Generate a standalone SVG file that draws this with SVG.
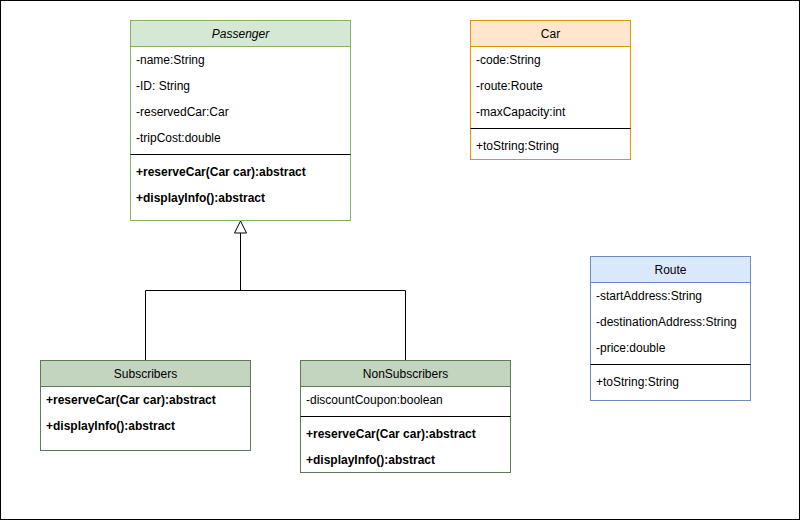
<svg xmlns="http://www.w3.org/2000/svg" width="801" height="521" viewBox="0 0 801 521">
  <style>
    text { font-family: "Liberation Sans", Arial, sans-serif; font-size: 12px; fill: #000; }
    .title { text-anchor: middle; }
    .it { font-style: italic; }
    .b { font-weight: bold; }
    .body { fill: #ffffff; }
    .sep { stroke: #000; stroke-width: 1; }
    .edge { fill: none; stroke: #000; stroke-width: 1; }
  </style>
  <defs>
    <marker id="inherit" viewBox="0 0 14 14" refX="13" refY="7" markerWidth="14" markerHeight="14" markerUnits="userSpaceOnUse" orient="auto">
      <path d="M1,1 L13,7 L1,13 Z" fill="#fff" stroke="#000" stroke-width="1"/>
    </marker>
  </defs>

  <rect x="0.5" y="0.5" width="799" height="519" fill="#fff" stroke="#000"/>

  <g id="connectors">
    <path class="edge" d="M145.5,360 V290.5 H405.5 V360"/>
    <path class="edge" d="M240.5,290.5 V221" marker-end="url(#inherit)"/>
  </g>

  <g id="passenger">
    <rect class="body" x="130.5" y="20.5" width="220" height="200" stroke="#82b366"/>
    <rect x="130.5" y="20.5" width="220" height="26" fill="#d5e8d4" stroke="#82b366"/>
    <text class="title it" x="240.5" y="38">Passenger</text>
    <text x="136" y="64">-name:String</text>
    <text x="136" y="90">-ID: String</text>
    <text x="136" y="116">-reservedCar:Car</text>
    <text x="136" y="142">-tripCost:double</text>
    <line class="sep" x1="130.5" y1="154.5" x2="350.5" y2="154.5"/>
    <text class="b" x="136" y="176">+reserveCar(Car car):abstract</text>
    <text class="b" x="136" y="202">+displayInfo():abstract</text>
  </g>

  <g id="car">
    <rect class="body" x="470.5" y="20.5" width="160" height="139" stroke="#d79b00"/>
    <rect x="470.5" y="20.5" width="160" height="26" fill="#ffe6cc" stroke="#d79b00"/>
    <text class="title" x="550.5" y="38">Car</text>
    <text x="476" y="64">-code:String</text>
    <text x="476" y="90">-route:Route</text>
    <text x="476" y="116">-maxCapacity:int</text>
    <line class="sep" x1="470.5" y1="128.5" x2="630.5" y2="128.5"/>
    <text x="476" y="150">+toString:String</text>
  </g>

  <g id="route">
    <rect class="body" x="590.5" y="256.5" width="160" height="144" stroke="#6c8ebf"/>
    <rect x="590.5" y="256.5" width="160" height="26" fill="#dae8fc" stroke="#6c8ebf"/>
    <text class="title" x="670.5" y="274">Route</text>
    <text x="596" y="300">-startAddress:String</text>
    <text x="596" y="326">-destinationAddress:String</text>
    <text x="596" y="352">-price:double</text>
    <line class="sep" x1="590.5" y1="364.5" x2="750.5" y2="364.5"/>
    <text x="596" y="386">+toString:String</text>
  </g>

  <g id="subscribers">
    <rect class="body" x="40.5" y="360.5" width="210" height="90" stroke="#5f7a57"/>
    <rect x="40.5" y="360.5" width="210" height="26" fill="#c3d4bf" stroke="#5f7a57"/>
    <text class="title" x="145.5" y="378">Subscribers</text>
    <text class="b" x="46" y="404">+reserveCar(Car car):abstract</text>
    <text class="b" x="46" y="430">+displayInfo():abstract</text>
  </g>

  <g id="nonsubscribers">
    <rect class="body" x="300.5" y="360.5" width="210" height="112" stroke="#5f7a57"/>
    <rect x="300.5" y="360.5" width="210" height="26" fill="#c3d4bf" stroke="#5f7a57"/>
    <text class="title" x="405.5" y="378">NonSubscribers</text>
    <text x="306" y="404">-discountCoupon:boolean</text>
    <line class="sep" x1="300.5" y1="416.5" x2="510.5" y2="416.5"/>
    <text class="b" x="306" y="438">+reserveCar(Car car):abstract</text>
    <text class="b" x="306" y="464">+displayInfo():abstract</text>
  </g>
</svg>
